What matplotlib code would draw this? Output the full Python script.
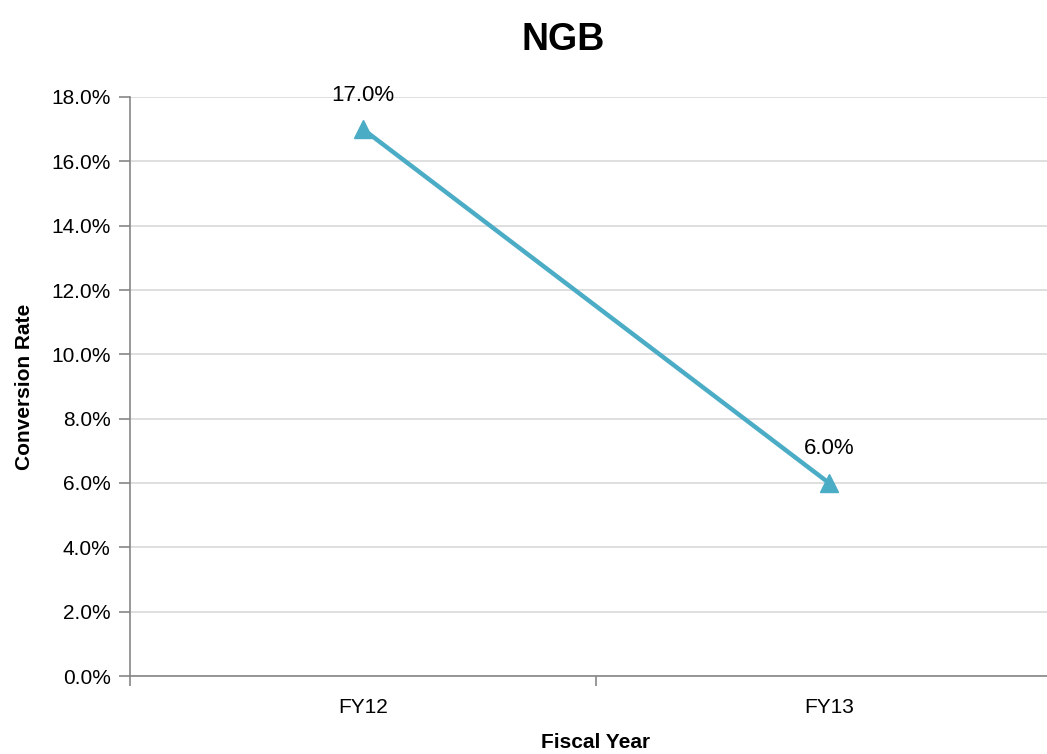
import matplotlib
matplotlib.use("Agg")
import matplotlib.pyplot as plt
from matplotlib.ticker import FuncFormatter, FixedLocator

categories = ["FY12", "FY13"]
values = [17.0, 6.0]
yticks = [0, 2, 4, 6, 8, 10, 12, 14, 16, 18]

plt.rcParams['font.family'] = ['Liberation Sans', 'DejaVu Sans']

fig = plt.figure(figsize=(10.47, 7.54), dpi=100)
ax = fig.add_axes([130/1047, 78/754, 932/1047, 579/754])

x = list(range(len(categories)))
color = "#4BACC6"
ax.plot(x, values, color=color, linewidth=3.2, marker="^", markersize=13, zorder=3, clip_on=False)
for xi, v in zip(x, values):
    ax.annotate(f"{v:.1f}%", (xi, v), xytext=(0, 17), textcoords="offset points",
                ha="center", va="bottom", fontsize=16, color="#000000")

ax.set_xlim(-0.5, len(categories) - 0.5)
ax.set_ylim(0, 18)
ax.set_yticks(yticks)
ax.yaxis.set_major_formatter(FuncFormatter(lambda v, p: f"{v:.1f}%"))
ax.set_xticks(x)
ax.set_xticklabels(categories)
ax.xaxis.set_minor_locator(FixedLocator([i - 0.5 for i in range(len(categories) + 1)]))
ax.tick_params(axis="x", which="major", length=0, pad=16, labelsize=15)
ax.tick_params(axis="x", which="minor", length=7, color="#868686", width=1.2)
ax.tick_params(axis="y", length=8, color="#868686", width=1.2, labelsize=15, pad=6)

ax.grid(axis="y", color="#D9D9D9", linewidth=1.2)
ax.set_axisbelow(True)
for s in ["top", "right"]:
    ax.spines[s].set_visible(False)
for s in ["left", "bottom"]:
    ax.spines[s].set_color("#868686")
    ax.spines[s].set_linewidth(1.2)

ax.set_xlabel("Fiscal Year", fontsize=15, fontweight="bold", labelpad=11)
ax.set_ylabel("Conversion Rate", fontsize=15, fontweight="bold", labelpad=12)
fig.text(563/1047, 1 - 40/754, "NGB", ha="center", va="center", fontsize=27, fontweight="bold")

fig.savefig("out.png", dpi=100)
